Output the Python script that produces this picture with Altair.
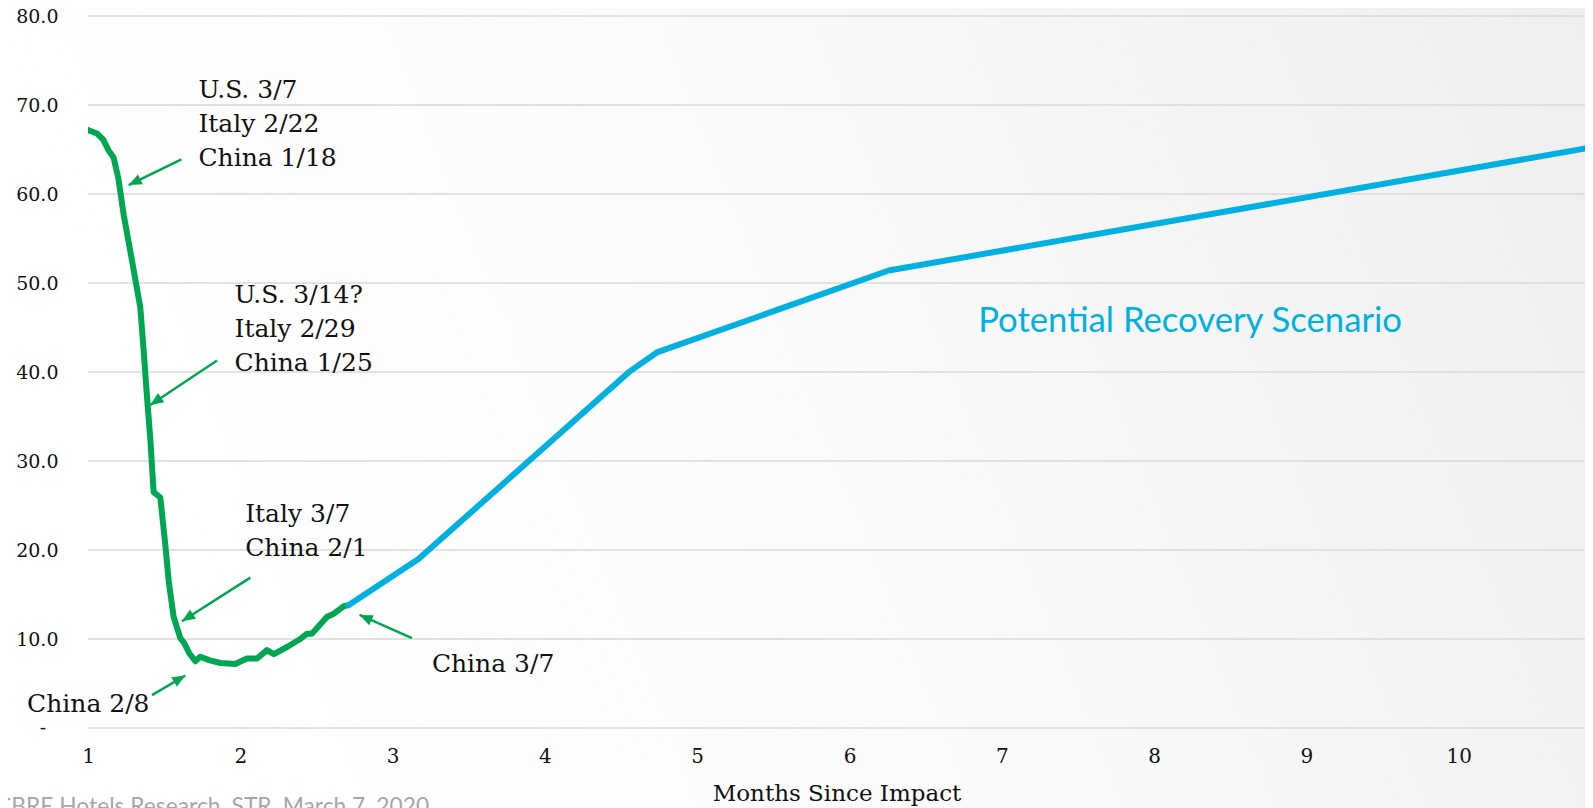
import math
import altair as alt
import pandas as pd

# ---------------- data ----------------
green_x = [1.00, 1.059, 1.10, 1.135, 1.168, 1.20, 1.234, 1.289, 1.343, 1.365, 1.387,
           1.409, 1.431, 1.475, 1.508, 1.53, 1.562, 1.606, 1.63, 1.665, 1.705, 1.737,
           1.80, 1.87, 1.967, 2.044, 2.11, 2.175, 2.22, 2.307, 2.394, 2.438, 2.47,
           2.57, 2.61, 2.68, 2.71]
green_y = [67.2, 66.8, 66.1, 64.9, 64.1, 61.7, 57.7, 52.5, 47.3, 42.5, 37.3,
           32.5, 26.5, 25.9, 20.5, 16.5, 12.5, 10.1, 9.6, 8.4, 7.5, 8.0,
           7.6, 7.3, 7.2, 7.8, 7.8, 8.75, 8.3, 9.1, 10.0, 10.6, 10.6,
           12.5, 12.8, 13.7, 13.8]
blue_x = [2.71, 3.17, 4.56, 4.735, 6.257, 10.86]
blue_y = [13.8, 19.0, 40.1, 42.2, 51.4, 65.2]

y_ticks = [0, 10, 20, 30, 40, 50, 60, 70, 80]
x_ticks = [1, 2, 3, 4, 5, 6, 7, 8, 9, 10]

ann_lines = [["U.S. 3/7", "Italy 2/22", "China 1/18"],
             ["U.S. 3/14?", "Italy 2/29", "China 1/25"],
             ["Italy 3/7", "China 2/1"],
             ["China 3/7"],
             ["China 2/8"]]
ann_x = [1.725, 1.962, 2.032, 3.258, 0.60]
ann_y = [70.75, 47.7, 23.1, 6.3, 1.8]

arrow_tail_x = [1.613, 1.847, 2.066, 1.420, 3.127]
arrow_tail_y = [63.9, 41.3, 16.9, 3.7, 10.1]
arrow_head_x = [1.267, 1.409, 1.617, 1.639, 2.783]
arrow_head_y = [61.0, 36.3, 12.0, 5.9, 12.7]

scenario_label = "Potential Recovery Scenario"
scenario_x = [6.845]
scenario_y = [44.5]

source_text = "CBRE Hotels Research, STR, March 7, 2020"
x_title = "Months Since Impact"

# ---------------- styling ----------------
GREEN = "#00A651"
BLUE = "#00B0E0"
SERIF = "DejaVu Serif"
WIDTH, HEIGHT = 1497, 712
XMIN, XMAX = 1, 1 + WIDTH / 152.3
YMIN, YMAX = 0, 80
PAD_L, PAD_T, PAD_B = 80, 8, 80

px_x = WIDTH / (XMAX - XMIN)
px_y = HEIGHT / (YMAX - YMIN)

xs = alt.Scale(domain=[XMIN, XMAX], nice=False, zero=False)
ys = alt.Scale(domain=[YMIN, YMAX], nice=False, zero=False)

lines_df = pd.DataFrame({
    "x": green_x + blue_x,
    "y": green_y + blue_y,
    "series": ["Actual"] * len(green_x) + ["Scenario"] * len(blue_x),
})

angles = []
for tx, ty, hx, hy in zip(arrow_tail_x, arrow_tail_y, arrow_head_x, arrow_head_y):
    dx = (hx - tx) * px_x
    dy = -(hy - ty) * px_y
    angles.append(math.degrees(math.atan2(dy, dx)) % 360)

arrows_df = pd.DataFrame({"tx": arrow_tail_x, "ty": arrow_tail_y,
                          "hx": arrow_head_x, "hy": arrow_head_y, "angle": angles})
ann_df = pd.DataFrame({"x": ann_x, "y": ann_y, "text": ann_lines})

grad = alt.Gradient(
    gradient="linear",
    stops=[alt.GradientStop(color="#ffffff", offset=0),
           alt.GradientStop(color="#fbfbfb", offset=0.4),
           alt.GradientStop(color="#eeeeee", offset=1)],
    x1=0, x2=1, y1=0.2, y2=0,
)

one = pd.DataFrame({"k": [0]})

bg = alt.Chart(one).mark_rect(color=grad).encode(
    x=alt.value(-PAD_L), x2=alt.value(WIDTH + 10),
    y=alt.value(-PAD_T), y2=alt.value(HEIGHT + PAD_B),
)

grid = alt.Chart(pd.DataFrame({"g": y_ticks})).mark_rule(
    color="#d9d9d9", strokeWidth=1.5
).encode(y=alt.Y("g:Q", scale=ys), x=alt.value(0), x2=alt.value(WIDTH))

base_lines = alt.Chart(lines_df).mark_line(
    strokeWidth=6, strokeCap="round", strokeJoin="round", clip=True
).encode(
    x=alt.X("x:Q", scale=xs,
            axis=alt.Axis(values=x_ticks, grid=False, ticks=False, domain=False,
                          labelFont=SERIF, labelFontSize=20, labelColor="#111",
                          labelPadding=18, format="d", zindex=1, labelFlush=False,
                          title=x_title, titleFont=SERIF, titleFontSize=23,
                          titleFontWeight="normal", titleColor="#111",
                          titleY=72, titleBaseline="alphabetic")),
    y=alt.Y("y:Q", scale=ys,
            axis=alt.Axis(values=y_ticks, grid=False, ticks=False, domain=False,
                          labelFont=SERIF, labelFontSize=19, zindex=1,
                          labelColor="#111", labelPadding=30, labelFlush=False,
                          labelExpr="datum.value == 0 ? '' : format(datum.value, '.1f')",
                          title=None)),
    color=alt.Color("series:N", scale=alt.Scale(domain=["Actual", "Scenario"],
                                                range=[GREEN, BLUE]), legend=None),
    order=alt.Order("x:Q"),
)

zero_label = alt.Chart(pd.DataFrame({"y": [0]})).mark_text(
    text="-", font=SERIF, fontSize=19, color="#111", align="center", baseline="middle"
).encode(x=alt.value(-45), y=alt.Y("y:Q", scale=ys))

rules = alt.Chart(arrows_df).mark_rule(color=GREEN, strokeWidth=2.5).encode(
    x=alt.X("tx:Q", scale=xs), y=alt.Y("ty:Q", scale=ys),
    x2="hx:Q", y2="hy:Q",
)

heads = alt.Chart(arrows_df).mark_point(
    shape="M0,0 L-2,-0.85 L-2,0.85 Z", filled=True, size=170, color=GREEN,
    opacity=1, strokeWidth=0
).encode(
    x=alt.X("hx:Q", scale=xs), y=alt.Y("hy:Q", scale=ys),
    angle=alt.Angle("angle:Q", scale=None),
)

texts = alt.Chart(ann_df).mark_text(
    align="left", baseline="alphabetic", font=SERIF, fontSize=25,
    lineHeight=34, color="#111"
).encode(x=alt.X("x:Q", scale=xs), y=alt.Y("y:Q", scale=ys), text="text")

scenario = alt.Chart(pd.DataFrame({"x": scenario_x, "y": scenario_y,
                                   "t": [scenario_label]})).mark_text(
    align="left", baseline="alphabetic", font="Lato", fontSize=34.7, color=BLUE
).encode(x=alt.X("x:Q", scale=xs), y=alt.Y("y:Q", scale=ys), text="t:N")

source = alt.Chart(one).mark_text(
    text=source_text, align="left", baseline="alphabetic", font="Lato",
    fontSize=22.8, color="#a6a6a6"
).encode(x=alt.value(-92), y=alt.value(HEIGHT + 86))

chart = alt.layer(bg, grid, base_lines, zero_label, rules, heads, texts, scenario, source).properties(
    width=WIDTH, height=HEIGHT,
    autosize=alt.AutoSizeParams(type="none"),
    padding={"left": PAD_L, "top": PAD_T, "right": 0, "bottom": PAD_B},
    background="white",
).configure_view(stroke=None)

chart.save("out.html", embed_options={"renderer": "svg", "actions": False})
